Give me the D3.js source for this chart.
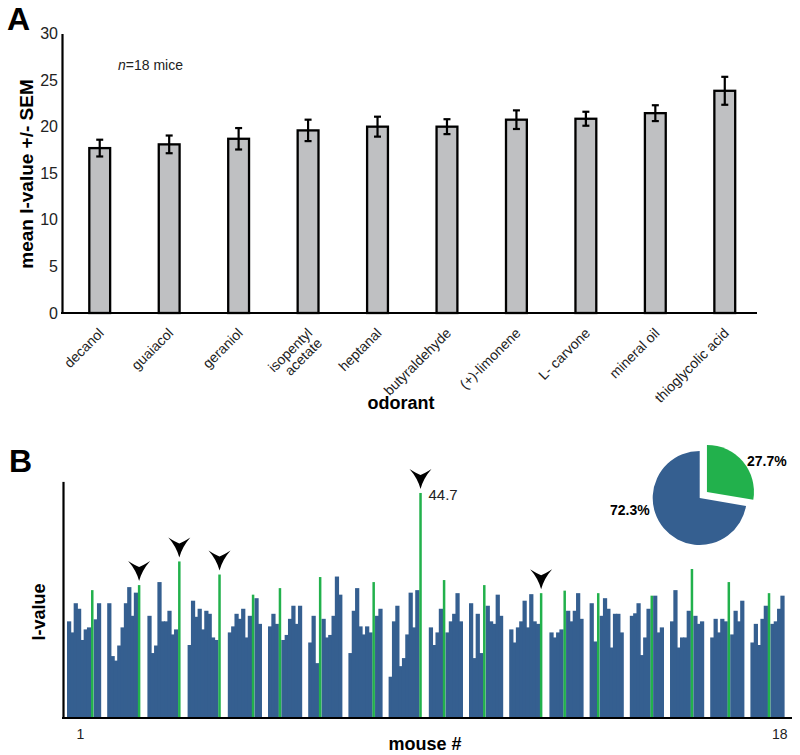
<!DOCTYPE html>
<html><head><meta charset="utf-8">
<script src="https://cdn.jsdelivr.net/npm/d3@7"></script>
<style>
body{margin:0;background:#fff}
svg{display:block;font-family:"Liberation Sans",Arial,Helvetica,sans-serif}
</style>
</head><body>
<svg id="chart" width="800" height="755"></svg>
<script>
// ---------- Panel A data ----------
const odorants = ["decanol","guaiacol","geraniol","isopentyl\nacetate","heptanal","butyraldehyde","(+)-limonene","L- carvone","mineral oil","thioglycolic acid"];
const meanI = [17.7, 18.1, 18.7, 19.6, 20.0, 20.0, 20.75, 20.85, 21.45, 23.85];
const semI  = [0.9, 0.95, 1.15, 1.15, 1.07, 0.8, 1.0, 0.75, 0.85, 1.5];
const yTicksA = [0, 5, 10, 15, 20, 25, 30];

// ---------- Panel B data ----------
const mice = d3.range(1, 19);
const mouseIValues = [
  [19.2, 17.0, 22.8, 21.7, 15.5, 17.6, 18.0, 25.4, 19.6, 22.8],
  [22.8, 12.3, 11.4, 14.4, 18.0, 22.8, 26.0, 20.3, 24.9, 26.4],
  [20.3, 12.9, 14.4, 27.0, 19.2, 19.2, 21.3, 16.6, 17.6, 31.1],
  [14.5, 23.3, 20.1, 21.7, 17.6, 21.3, 20.7, 16.0, 15.5, 28.5],
  [17.0, 18.2, 20.7, 19.7, 21.7, 16.0, 20.3, 24.5, 23.8, 18.7],
  [18.2, 20.7, 18.7, 25.8, 15.5, 16.5, 19.7, 22.3, 18.7, 22.3],
  [15.0, 20.3, 10.9, 28.0, 19.7, 16.0, 16.5, 20.3, 28.1, 24.5],
  [12.9, 21.3, 25.8, 18.2, 16.6, 18.2, 17.0, 27.0, 20.3, 21.7],
  [8.2, 19.2, 22.3, 10.3, 11.9, 16.6, 24.9, 18.0, 25.4, 44.7],
  [18.0, 14.5, 17.0, 21.7, 27.4, 17.0, 19.2, 20.7, 24.8, 19.2],
  [22.8, 11.9, 20.7, 12.9, 26.4, 22.3, 19.2, 18.7, 24.5, 20.3],
  [17.6, 15.0, 18.0, 19.2, 23.3, 18.0, 24.6, 19.2, 18.7, 24.8],
  [17.0, 16.0, 17.0, 17.6, 25.3, 21.3, 19.2, 21.3, 24.8, 19.7],
  [22.8, 15.2, 24.8, 20.3, 23.8, 21.7, 14.0, 20.7, 20.7, 17.0],
  [20.3, 20.8, 22.8, 12.5, 16.0, 21.7, 24.3, 24.3, 17.0, 18.0],
  [19.2, 25.4, 14.0, 16.0, 16.0, 21.3, 29.6, 20.3, 18.7, 19.2],
  [16.0, 19.7, 17.0, 19.7, 19.2, 27.0, 16.6, 21.3, 19.2, 23.3],
  [15.0, 18.7, 14.5, 19.7, 22.3, 24.8, 18.7, 19.2, 21.7, 24.3]
];
// position (0-based) of the thioglycolic acid bar within each mouse's group
const thioIndex = [7, 9, 9, 9, 7, 3, 3, 7, 9, 4, 4, 9, 4, 2, 6, 6, 5, 5];
const arrowMice = [2, 3, 4, 9, 12];
const maxLabel = "44.7";
const pieValues = [27.7, 72.3];
const pieLabels = ["27.7%", "72.3%"];
const xEndLabels = ["1", "18"];

const BLUE = "#355f90", GREEN = "#22b14c", GRAY = "#bfc0c2";
const svg = d3.select("#chart");

// ================= Panel A =================
svg.append("text").attr("x", 7).attr("y", 30).attr("font-size", 32).attr("font-weight", "bold").text("A");

const xA = d3.scaleBand().domain(odorants).range([65, 759.5]).paddingInner(0.7).paddingOuter(0.35);
const yA = d3.scaleLinear().domain([0, 30]).range([313, 33.5]);

const gA = svg.append("g");
const yAxA = gA.append("g").attr("transform", "translate(62,0)")
  .call(d3.axisLeft(yA).tickValues(yTicksA).tickSize(0).tickSizeOuter(0).tickPadding(4));
yAxA.select(".domain").attr("stroke", "#000").attr("stroke-width", 2.2);
yAxA.selectAll("text").attr("font-size", 16).attr("fill", "#222").attr("font-family", "inherit");

// bars
gA.selectAll("rect.bar").data(odorants).join("rect")
  .attr("x", d => xA(d)).attr("width", xA.bandwidth())
  .attr("y", (d, i) => yA(meanI[i])).attr("height", (d, i) => yA(0) - yA(meanI[i]))
  .attr("fill", GRAY).attr("stroke", "#000").attr("stroke-width", 2.3);

// error bars
const eb = gA.selectAll("g.err").data(odorants).join("g").attr("class", "err");
eb.append("line").attr("x1", d => xA(d) + xA.bandwidth() / 2).attr("x2", d => xA(d) + xA.bandwidth() / 2)
  .attr("y1", (d, i) => yA(meanI[i] + semI[i])).attr("y2", (d, i) => yA(meanI[i] - semI[i]))
  .attr("stroke", "#000").attr("stroke-width", 2.2);
[1, -1].forEach(s => {
  eb.append("line").attr("x1", d => xA(d) + xA.bandwidth() / 2 - 3.5).attr("x2", d => xA(d) + xA.bandwidth() / 2 + 3.5)
    .attr("y1", (d, i) => yA(meanI[i] + s * semI[i])).attr("y2", (d, i) => yA(meanI[i] + s * semI[i]))
    .attr("stroke", "#000").attr("stroke-width", 2.2);
});

// x axis
const xAxA = gA.append("g").attr("transform", "translate(0,313)")
  .call(d3.axisBottom(xA).tickSize(0).tickSizeOuter(0).tickFormat(() => ""));
xAxA.select(".domain").remove();
gA.append("line").attr("x1", 61).attr("x2", 757).attr("y1", 313).attr("y2", 313)
  .attr("stroke", "#000").attr("stroke-width", 2.2);
xAxA.selectAll(".tick").each(function (d) {
  const t = d3.select(this).append("text")
    .attr("transform", "translate(-2,14) rotate(-45)")
    .attr("text-anchor", "end").attr("font-size", 14).attr("fill", "#222")
    .attr("font-family", "inherit");
  d.split("\n").forEach((line, k) => {
    t.append("tspan").attr("x", 0).attr("dy", k === 0 ? "0.71em" : "1.0em").text(line);
  });
});

svg.append("text").attr("x", 401).attr("y", 409).attr("text-anchor", "middle")
  .attr("font-size", 18).attr("font-weight", "bold").text("odorant");
svg.append("text").attr("transform", "translate(33,174) rotate(-90)").attr("text-anchor", "middle")
  .attr("font-size", 19).attr("font-weight", "bold").text("mean I-value +/- SEM");
const nt = svg.append("text").attr("x", 118).attr("y", 70).attr("font-size", 14).attr("fill", "#222");
nt.append("tspan").attr("font-style", "italic").text("n");
nt.append("tspan").text("=18 mice");

// ================= Panel B =================
svg.append("text").attr("x", 9).attr("y", 472).attr("font-size", 32).attr("font-weight", "bold").text("B");

const xB = d3.scaleBand().domain(mice).range([67.3, 784]).paddingInner(0.172).paddingOuter(0);
const slot = d3.scaleBand().domain(d3.range(10)).range([0, xB.bandwidth()]);
const yB = d3.scaleLinear().domain([0, 47]).range([718, 481.4]);

const gB = svg.append("g");
const flat = [];
mouseIValues.forEach((vals, i) => vals.forEach((v, j) => flat.push({ m: mice[i], j, v, thio: j === thioIndex[i] })));

gB.selectAll("rect.blue").data(flat.filter(d => !d.thio)).join("rect")
  .attr("x", d => xB(d.m) + slot(d.j) - 0.3).attr("width", slot.bandwidth() + 0.9)
  .attr("y", d => yB(d.v)).attr("height", d => yB(0) - yB(d.v)).attr("fill", BLUE);
const gw = slot.bandwidth() * 0.75;
gB.selectAll("rect.green").data(flat.filter(d => d.thio)).join("rect")
  .attr("x", d => xB(d.m) + slot(d.j) + (slot.bandwidth() - gw) / 2).attr("width", gw)
  .attr("y", d => yB(d.v)).attr("height", d => yB(0) - yB(d.v)).attr("fill", GREEN);

// axes
const yAxB = gB.append("g").attr("transform", "translate(63,0)")
  .call(d3.axisLeft(yB).tickValues([]).tickSizeOuter(0));
yAxB.select(".domain").attr("stroke", "#000").attr("stroke-width", 2.2);
const xAxB = gB.append("g").attr("transform", "translate(0,718)")
  .call(d3.axisBottom(xB).tickValues([]).tickSizeOuter(0));
xAxB.select(".domain").remove();
gB.append("line").attr("x1", 62).attr("x2", 792).attr("y1", 718).attr("y2", 718)
  .attr("stroke", "#000").attr("stroke-width", 2.2);

svg.append("text").attr("x", xB(1) + 13).attr("y", 739).attr("text-anchor", "middle")
  .attr("font-size", 14).attr("fill", "#222").text(xEndLabels[0]);
svg.append("text").attr("x", xB(18) + 29).attr("y", 739).attr("text-anchor", "middle")
  .attr("font-size", 14).attr("fill", "#222").text(xEndLabels[1]);
svg.append("text").attr("x", 425).attr("y", 750).attr("text-anchor", "middle")
  .attr("font-size", 18).attr("font-weight", "bold").text("mouse #");
svg.append("text").attr("transform", "translate(45,612) rotate(-90)").attr("text-anchor", "middle")
  .attr("font-size", 18).attr("font-weight", "bold").text("I-value");

// arrowheads
const arrowPath = "M0,0 Q-3,-11 -11,-20 Q-4,-15.5 0,-14 Q4,-15.5 11,-20 Q3,-11 0,0 Z";
arrowMice.forEach(m => {
  const i = m - 1, j = thioIndex[i], v = mouseIValues[i][j];
  const cx = xB(m) + slot(j) + slot.bandwidth() / 2;
  gB.append("path").attr("d", arrowPath)
    .attr("transform", `translate(${cx},${yB(v) - 4})`).attr("fill", "#000");
});
// max label
{
  const i = 8, j = thioIndex[i], v = mouseIValues[i][j];
  const cx = xB(mice[i]) + slot(j) + slot.bandwidth() / 2;
  gB.append("text").attr("x", cx + 8).attr("y", yB(v) + 7).attr("font-size", 15).attr("fill", "#222").text(maxLabel);
}

// pie
const pie = d3.pie().sort(null).startAngle(0).endAngle(2 * Math.PI)(pieValues);
const arc = d3.arc().innerRadius(0).outerRadius(47);
const pg = svg.append("g").attr("transform", "translate(699.7,498)");
pie.forEach((p, k) => {
  const mid = (p.startAngle + p.endAngle) / 2;
  const off = k === 0 ? 9.5 : 0;
  pg.append("path").attr("d", arc(p))
    .attr("transform", `translate(${off * Math.sin(mid)},${-off * Math.cos(mid)})`)
    .attr("fill", k === 0 ? GREEN : BLUE);
});
svg.append("text").attr("x", 747).attr("y", 466).attr("font-size", 14).attr("font-weight", "bold").text(pieLabels[0]);
svg.append("text").attr("x", 610).attr("y", 515).attr("font-size", 14).attr("font-weight", "bold").text(pieLabels[1]);
</script>
</body></html>
